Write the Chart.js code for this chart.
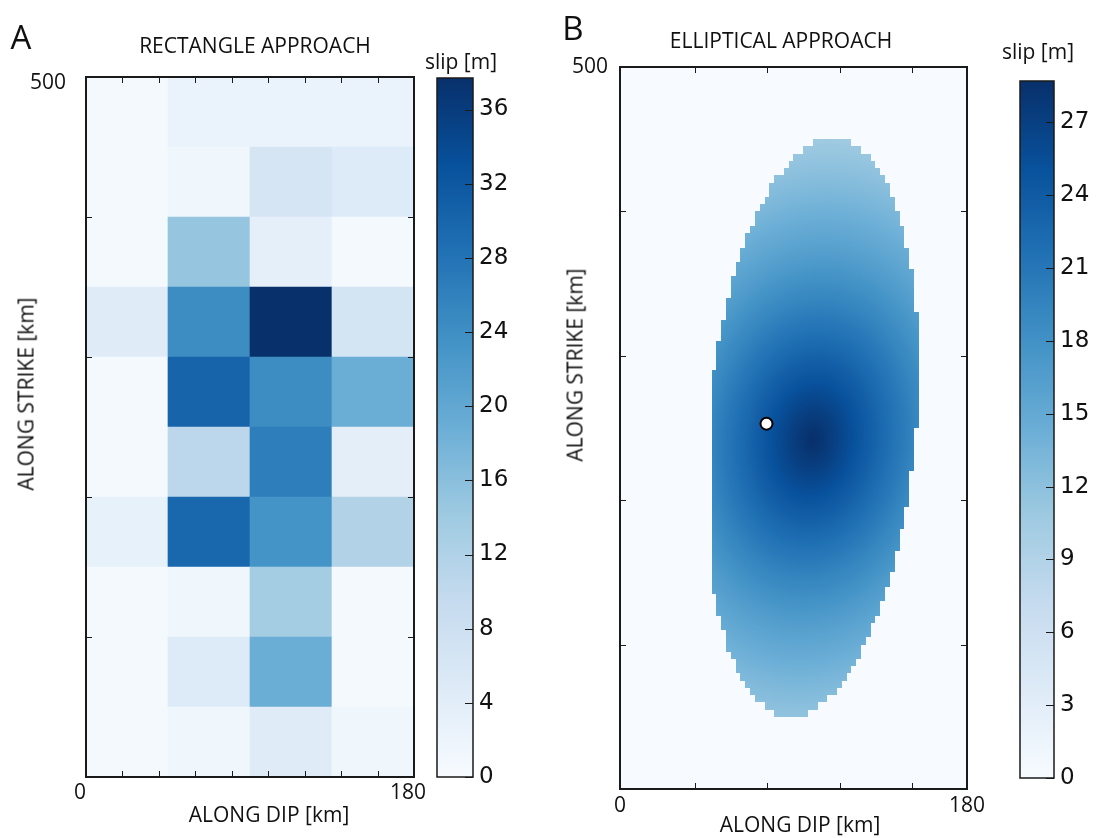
<!DOCTYPE html>
<html>
<head>
<meta charset="utf-8">
<title>Slip distribution: rectangle and elliptical approach</title>
<script src="https://cdn.jsdelivr.net/npm/chart.js@4.4.1/dist/chart.umd.min.js"></script>
<style>
  body { margin: 0; background: #fff; }
  #page { position: relative; width: 1097px; height: 838px; overflow: hidden; font-family: "Open Sans", sans-serif; color: #111; }
  #page canvas { position: absolute; top: 0; }
  .lbl { position: absolute; white-space: nowrap; transform: translate(-50%, -50%); font-size: 21px; line-height: 1; }
  .letter { font-size: 33px; }
  .vert { transform: translate(-50%, -50%) rotate(-90deg); }
</style>
</head>
<body>
<div id="page">
  <canvas id="rect" width="440" height="838" style="left:0"></canvas>
  <canvas id="rect-bar" width="110" height="838" style="left:425px"></canvas>
  <canvas id="ellip" width="460" height="838" style="left:540px"></canvas>
  <canvas id="ellip-bar" width="97" height="838" style="left:1000px"></canvas>

  <div class="lbl letter" style="left:21px;top:36px">A</div>
  <div class="lbl" style="left:255px;top:45px">RECTANGLE APPROACH</div>
  <div class="lbl" style="left:461px;top:61px">slip [m]</div>
  <div class="lbl" style="left:269px;top:814px">ALONG DIP [km]</div>
  <div class="lbl vert" style="left:26px;top:394px">ALONG STRIKE [km]</div>

  <div class="lbl letter" style="left:573px;top:27px">B</div>
  <div class="lbl" style="left:781px;top:40px">ELLIPTICAL APPROACH</div>
  <div class="lbl" style="left:1038px;top:51px">slip [m]</div>
  <div class="lbl" style="left:800px;top:824px">ALONG DIP [km]</div>
  <div class="lbl vert" style="left:575px;top:365px">ALONG STRIKE [km]</div>
</div>

<script>
// ------------- data ------------- //

// A: rectangle approach, 4 cells along dip x 10 cells along strike
var dipEdges = [0, 45, 90, 135, 180]
var strikeEdges = [500, 450, 400, 350, 300, 250, 200, 150, 100, 50, 0]

// slip [m], rows from the top (450-500 km) down to the bottom (0-50 km)
var rectSlip = [
    [0.5, 2.5, 2.5, 2.5],
    [0.5, 1.5, 6.5, 5.0],
    [0.5, 15.0, 3.4, 0.5],
    [4.5, 24.3, 37.7, 6.8],
    [0.5, 30.2, 24.3, 19.0],
    [0.5, 10.6, 26.4, 3.8],
    [3.0, 29.8, 23.2, 11.8],
    [0.5, 1.5, 13.4, 0.5],
    [0.5, 5.0, 19.0, 0.5],
    [0.5, 1.5, 4.5, 1.5]
]
var rectMax = 37.7
var rectBarTicks = [0, 4, 8, 12, 16, 20, 24, 28, 32, 36]
var rectDipTicks = [20, 40, 60, 80, 100, 120, 140, 160]
var rectStrikeTicks = [100, 200, 300, 400]

// B: elliptical approach (km along dip, km along strike)
var ellipCentre = [99.6, 250.7]
var ellipHalfAxes = [54, 201]
var ellipTiltDeg = [3.4]
var dipClip = [47.7, 154]
var slipCentre = [100, 242]
var slipDecay = [115, 210]
var slipShape = [1.2]
var slipPeak = 28.7
var gridCell = [2.5, 5]
var hypocentre = [76, 253]
var ellipBarTicks = [0, 3, 6, 9, 12, 15, 18, 21, 24, 27]
var ellipDipTicks = [39, 76.5, 114, 151.5]
var ellipStrikeTicks = [100, 200, 300, 400]

// ------------- colour map (Blues) --------------------------- //

var blues = [[247, 251, 255], [222, 235, 247], [198, 219, 239], [158, 202, 225], [107, 174, 214],
             [66, 146, 198], [33, 113, 181], [8, 81, 156], [8, 48, 107]]

function bluesRGB(t) {
    t = Math.max(0, Math.min(1, t)) * (blues.length - 1)
    var i = Math.min(blues.length - 2, Math.floor(t)), f = t - i
    var a = blues[i], b = blues[i + 1]
    return [a[0] + (b[0] - a[0]) * f, a[1] + (b[1] - a[1]) * f, a[2] + (b[2] - a[2]) * f]
}

function bluesCss(t) {
    var c = bluesRGB(t)
    return 'rgb(' + Math.round(c[0]) + ',' + Math.round(c[1]) + ',' + Math.round(c[2]) + ')'
}

function bluesGradient(ctx) {
    var chart = ctx.chart, a = chart.chartArea
    if (!a) return bluesCss(0.5)
    var g = chart.ctx.createLinearGradient(0, a.bottom, 0, a.top)
    blues.forEach(function (c, i) {
        g.addColorStop(i / (blues.length - 1), 'rgb(' + c.join(',') + ')')
    })
    return g
}

Chart.defaults.font.family = '"Open Sans", sans-serif'
Chart.defaults.font.size = 21
Chart.defaults.color = '#111'

// ------------- plugins --------------------------- //

// frame round the plot plus inward tick marks on all four sides
function frameTicks(dipTicks, strikeTicks) {
    return {
        id: 'frameTicks',
        afterDatasetsDraw: function (chart) {
            var ctx = chart.ctx, a = chart.chartArea
            var xs = chart.scales.x, ys = chart.scales.y
            ctx.save()
            ctx.strokeStyle = '#1a1a1a'
            ctx.lineWidth = 1
            ctx.beginPath()
            dipTicks.forEach(function (d) {
                var px = Math.round(xs.getPixelForValue(d)) + 0.5
                ctx.moveTo(px, a.top); ctx.lineTo(px, a.top + 6)
                ctx.moveTo(px, a.bottom); ctx.lineTo(px, a.bottom - 6)
            })
            strikeTicks.forEach(function (s) {
                var py = Math.round(ys.getPixelForValue(s)) + 0.5
                ctx.moveTo(a.left, py); ctx.lineTo(a.left + 6, py)
                ctx.moveTo(a.right, py); ctx.lineTo(a.right - 6, py)
            })
            ctx.stroke()
            ctx.lineWidth = 2
            ctx.strokeRect(a.left, a.top, a.right - a.left, a.bottom - a.top)
            ctx.restore()
        }
    }
}

var barFrame = {
    id: 'barFrame',
    afterDatasetsDraw: function (chart) {
        var ctx = chart.ctx, a = chart.chartArea, ys = chart.scales.y
        ctx.save()
        ctx.strokeStyle = '#1a1a1a'
        ctx.lineWidth = 1
        ctx.beginPath()
        ys.ticks.forEach(function (t) {
            var py = Math.round(ys.getPixelForValue(t.value)) + 0.5
            ctx.moveTo(a.right - 8, py); ctx.lineTo(a.right, py)
        })
        ctx.stroke()
        ctx.lineWidth = 1.5
        ctx.strokeRect(a.left, a.top, a.right - a.left, a.bottom - a.top)
        ctx.restore()
    }
}

function ellipticRadius(x, y, centre, halfAxes) {
    var th = ellipTiltDeg[0] * Math.PI / 180
    var dx = x - centre[0], dy = y - centre[1]
    var u = dx * Math.cos(th) - dy * Math.sin(th)
    var v = dx * Math.sin(th) + dy * Math.cos(th)
    return Math.sqrt(Math.pow(u / halfAxes[0], 2) + Math.pow(v / halfAxes[1], 2))
}

// the slip patch of panel B, painted through the chart scales
var slipField = {
    id: 'slipField',
    beforeDatasetsDraw: function (chart) {
        var a = chart.chartArea, xs = chart.scales.x, ys = chart.scales.y
        var left = Math.round(a.left), top = Math.round(a.top)
        var w = Math.round(a.right) - left, h = Math.round(a.bottom) - top
        var img = chart.ctx.createImageData(w, h)
        for (var py = 0; py < h; py++) {
            var y = ys.getValueForPixel(top + py + 0.5)
            var gy = (Math.floor(y / gridCell[1]) + 0.5) * gridCell[1]
            for (var px = 0; px < w; px++) {
                var x = xs.getValueForPixel(left + px + 0.5)
                var gx = (Math.floor(x / gridCell[0]) + 0.5) * gridCell[0]
                var slip = 0
                if (gx >= dipClip[0] && gx <= dipClip[1] && ellipticRadius(gx, gy, ellipCentre, ellipHalfAxes) <= 1) {
                    var rho = ellipticRadius(x, y, slipCentre, slipDecay)
                    slip = slipPeak * Math.exp(-Math.pow(rho, slipShape[0]))
                }
                var c = bluesRGB(slip / slipPeak)
                var k = (py * w + px) * 4
                img.data[k] = c[0]; img.data[k + 1] = c[1]; img.data[k + 2] = c[2]; img.data[k + 3] = 255
            }
        }
        chart.ctx.putImageData(img, left, top)
    }
}

// ------------- A: rectangle approach --------------------------- //

var cells = []
rectSlip.forEach(function (row, r) {
    row.forEach(function (v, c) {
        cells.push({ x: (dipEdges[c] + dipEdges[c + 1]) / 2, y: [strikeEdges[r + 1], strikeEdges[r]], v: v })
    })
})

var rectChart = new Chart("rect", {
    type: "bar",
    data: {
        datasets: [{
            data: cells,
            backgroundColor: function (ctx) { return ctx.raw ? bluesCss(ctx.raw.v / rectMax) : '#fff' },
            borderWidth: 0,
            borderSkipped: false,
            barPercentage: 1,
            categoryPercentage: 1
        }]
    },
    options: {
        responsive: false,
        animation: false,
        devicePixelRatio: 1,
        layout: { padding: { left: 0, top: 77, right: 26, bottom: 0 } },
        plugins: { legend: { display: false }, tooltip: { enabled: false } },
        scales: {
            x: {
                type: "linear", min: 0, max: 180, offset: false,
                grid: { display: false, drawTicks: false }, border: { display: false },
                afterBuildTicks: function (s) { s.ticks = [{ value: 0 }, { value: 180 }] },
                afterFit: function (s) { s.height = 61 },
                ticks: { padding: 3, labelOffset: -6 }
            },
            y: {
                type: "linear", min: 0, max: 500,
                grid: { display: false, drawTicks: false }, border: { display: false },
                afterBuildTicks: function (s) { s.ticks = [{ value: 500 }] },
                afterFit: function (s) { s.width = 86 },
                ticks: { padding: 20, labelOffset: 6 }
            }
        }
    },
    plugins: [frameTicks(rectDipTicks, rectStrikeTicks)]
});

// ------------- B: elliptical approach --------------------------- //

var ellipChart = new Chart("ellip", {
    type: "scatter",
    data: {
        datasets: [{
            data: [{ x: hypocentre[0], y: hypocentre[1] }],
            pointRadius: 6,
            pointBackgroundColor: "#fff",
            pointBorderColor: "#000",
            pointBorderWidth: 2
        }]
    },
    options: {
        responsive: false,
        animation: false,
        devicePixelRatio: 1,
        layout: { padding: { left: 0, top: 67, right: 33, bottom: 0 } },
        plugins: { legend: { display: false }, tooltip: { enabled: false } },
        scales: {
            x: {
                type: "linear", min: 0, max: 180,
                grid: { display: false, drawTicks: false }, border: { display: false },
                afterBuildTicks: function (s) { s.ticks = [{ value: 0 }, { value: 180 }] },
                afterFit: function (s) { s.height = 49 },
                ticks: { padding: 4, labelOffset: 0 }
            },
            y: {
                type: "linear", min: 0, max: 500,
                grid: { display: false, drawTicks: false }, border: { display: false },
                afterBuildTicks: function (s) { s.ticks = [{ value: 500 }] },
                afterFit: function (s) { s.width = 80 },
                ticks: { padding: 12 }
            }
        }
    },
    plugins: [slipField, frameTicks(ellipDipTicks, ellipStrikeTicks)]
});

// ------------- colour bars --------------------------- //

function colourBar(id, max, ticks, pad, axisWidth) {
    return new Chart(id, {
        type: "bar",
        data: {
            labels: ["slip"],
            datasets: [{
                data: [[0, max]],
                backgroundColor: bluesGradient,
                borderWidth: 0,
                borderSkipped: false,
                barPercentage: 1,
                categoryPercentage: 1
            }]
        },
        options: {
            responsive: false,
            animation: false,
            devicePixelRatio: 1,
            layout: { padding: pad },
            plugins: { legend: { display: false }, tooltip: { enabled: false } },
            scales: {
                x: { display: false },
                y: {
                    position: "right", min: 0, max: max,
                    grid: { display: false, drawTicks: false }, border: { display: false },
                    afterBuildTicks: function (s) { s.ticks = ticks.map(function (t) { return { value: t } }) },
                    afterFit: function (s) { s.width = axisWidth },
                    ticks: { padding: 6, font: { family: '"DejaVu Sans", sans-serif', size: 23 } }
                }
            }
        },
        plugins: [barFrame]
    })
}

var rectBar = colourBar("rect-bar", rectMax, rectBarTicks, { left: 12, top: 78, right: 0, bottom: 61 }, 62)
var ellipBar = colourBar("ellip-bar", slipPeak, ellipBarTicks, { left: 20, top: 81, right: 0, bottom: 60 }, 43)
</script>
</body>
</html>
